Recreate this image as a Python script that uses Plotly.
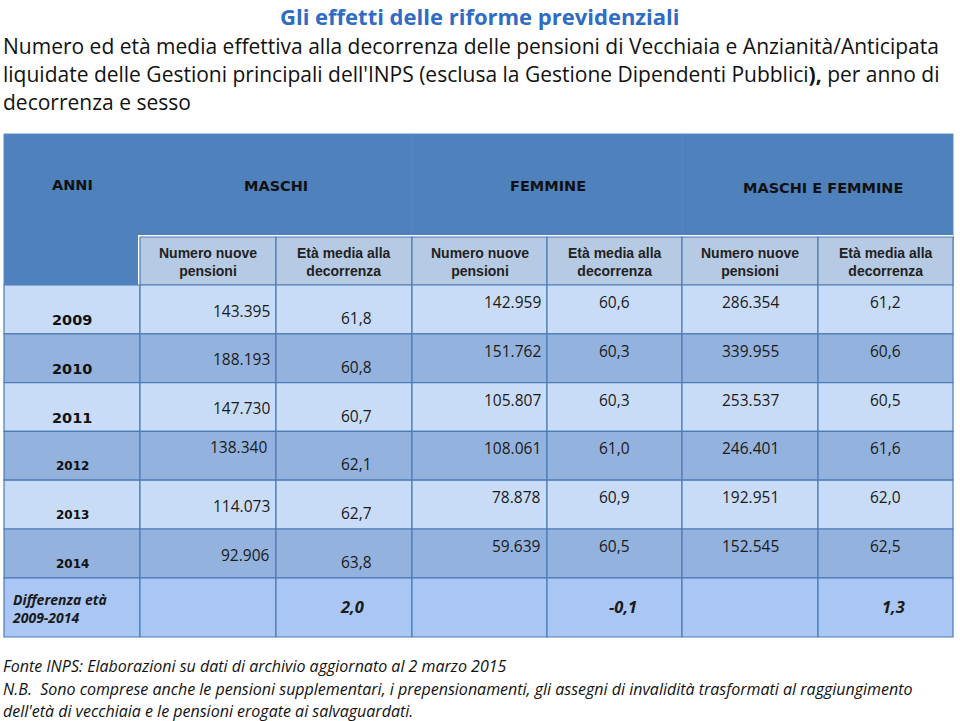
import plotly.graph_objects as go

# ---------------- data ----------------
title = "Gli effetti delle riforme previdenziali"
subtitle_lines = [
    "Numero ed età media effettiva alla decorrenza delle pensioni di Vecchiaia e Anzianità/Anticipata",
    "liquidate delle Gestioni principali dell'INPS (esclusa la Gestione Dipendenti Pubblici<b>),</b> per anno di",
    "decorrenza e sesso",
]
groups = ["MASCHI", "FEMMINE", "MASCHI E FEMMINE"]
sub_headers = ["Numero nuove<br>pensioni", "Età media alla<br>decorrenza"]
years = ["2009", "2010", "2011", "2012", "2013", "2014"]
maschi_num = [143395, 188193, 147730, 138340, 114073, 92906]
maschi_eta = [61.8, 60.8, 60.7, 62.1, 62.7, 63.8]
femmine_num = [142959, 151762, 105807, 108061, 78878, 59639]
femmine_eta = [60.6, 60.3, 60.3, 61.0, 60.9, 60.5]
totale_num = [286354, 339955, 253537, 246401, 192951, 152545]
totale_eta = [61.2, 60.6, 60.5, 61.6, 62.0, 62.5]
diff_label = "Differenza età<br>2009-2014"
diff_values = [2.0, -0.1, 1.3]
notes = [
    "Fonte INPS: Elaborazioni su dati di archivio aggiornato al 2 marzo 2015",
    "N.B.  Sono comprese anche le pensioni supplementari, i prepensionamenti, gli assegni di invalidità trasformati al raggiungimento",
    "dell'età di vecchiaia e le pensioni erogate ai salvaguardati.",
]


def fmt_int(v):
    return f"{v:,}".replace(",", ".")


def fmt_dec(v):
    return f"{v:.1f}".replace(".", ",")


# ---------------- layout constants ----------------
W, H = 960, 721
X = [4, 140, 276, 412, 547, 682, 818, 953]
HEAD_TOP, HEAD_BOT = 134, 236
SUB_TOP, SUB_BOT = 237, 285
ROW_H = 48.8
DIFF_TOP = SUB_BOT + ROW_H * len(years)
DIFF_BOT = 637

C_HEAD = "#4f81bd"
C_SUB = "#b6cae3"
C_LIGHT = "#c9dcf7"
C_DARK = "#93b2dd"
C_DIFF = "#aac6f4"
C_LINE = "#4d7bb8"
TXT = "#1a1a1a"

FONT_CAL = "Open Sans, Liberation Sans, sans-serif"
FONT_ARIAL = "Liberation Sans, Arial, sans-serif"
FONT_VERD = "DejaVu Sans, Verdana, sans-serif"

fig = go.Figure()
shapes = []
ann = []


def rect(x0, y0, x1, y1, fill, line=C_LINE, width=1.2):
    shapes.append(dict(type="rect", xref="x", yref="y", x0=x0, y0=y0, x1=x1, y1=y1,
                       fillcolor=fill, line=dict(color=line, width=width), layer="below"))


def text(x, y, t, size, family=FONT_CAL, color=TXT, xanchor="center", yanchor="middle"):
    ann.append(dict(x=x, y=y, xref="x", yref="y", text=t, showarrow=False,
                    font=dict(size=size, family=family, color=color),
                    xanchor=xanchor, yanchor=yanchor, align="left" if xanchor == "left" else "center"))


# header block
rect(X[0], HEAD_TOP, X[-1], SUB_BOT, C_HEAD, line="#5b8ac4", width=1)
for xi in [X[3], X[5]]:
    shapes.append(dict(type="line", xref="x", yref="y", x0=xi, x1=xi, y0=HEAD_TOP, y1=HEAD_BOT,
                       line=dict(color="#5a88c2", width=1), layer="below"))
shapes.append(dict(type="rect", xref="x", yref="y", x0=X[1] - 2, y0=SUB_TOP - 2, x1=X[-1], y1=SUB_BOT,
                   fillcolor="white", line=dict(width=0), layer="below"))
for c in range(6):
    rect(X[c + 1], SUB_TOP, X[c + 2], SUB_BOT, C_SUB)
    text((X[c + 1] + X[c + 2]) / 2, (SUB_TOP + SUB_BOT) / 2 + 1, "<b>" + sub_headers[c % 2] + "</b>",
         14, family=FONT_ARIAL, color="#222222")

text((X[0] + X[1]) / 2, 185, "<b>ANNI</b>", 14.5, family=FONT_VERD, color="#111111")
group_x = [(X[1] + X[3]) / 2, (X[3] + X[5]) / 2 + 1, (X[5] + X[7]) / 2 + 5]
group_y = [186, 186, 188]
for g, gx, gy in zip(groups, group_x, group_y):
    text(gx, gy, "<b>" + g + "</b>", 14.5, family=FONT_VERD, color="#111111")

# data rows
for i, yr in enumerate(years):
    top = SUB_BOT + i * ROW_H
    bot = top + ROW_H
    fill = C_LIGHT if i % 2 == 0 else C_DARK
    for c in range(7):
        rect(X[c], top, X[c + 1], bot, fill)
    big = i < 3
    text((X[0] + X[1]) / 2, top + 35, "<b>" + yr + "</b>", 14.5 if big else 12, family=FONT_VERD, color="#111111")
    my = top + (16 if i == 3 else 25.5)
    mx = X[2] - (7 if i == 3 else 4)
    text(mx, my, fmt_int(maschi_num[i]), 15.5, xanchor="right")
    text((X[2] + X[3]) / 2 + 12, top + 33, fmt_dec(maschi_eta[i]), 15.5)
    text(X[4] - 4, top + 17, fmt_int(femmine_num[i]), 15.5, xanchor="right")
    text((X[4] + X[5]) / 2, top + 17, fmt_dec(femmine_eta[i]), 15.5)
    text((X[5] + X[6]) / 2, top + 17, fmt_int(totale_num[i]), 15.5)
    text((X[6] + X[7]) / 2, top + 17, fmt_dec(totale_eta[i]), 15.5)

# difference row
for c in range(7):
    rect(X[c], DIFF_TOP, X[c + 1], DIFF_BOT, C_DIFF)
text(X[0] + 6, (DIFF_TOP + DIFF_BOT) / 2 + 1, "<b><i>" + diff_label + "</i></b>", 14, xanchor="left")
for k, v in enumerate(diff_values):
    c = 2 * k + 2
    text((X[c] + X[c + 1]) / 2 + 8, (DIFF_TOP + DIFF_BOT) / 2 - 1, "<b><i>" + fmt_dec(v) + "</i></b>", 16.5)

# title & subtitle
text(480, 16, "<b>" + title + "</b>", 22, family=FONT_CAL, color="#2f6cc4")
for j, line in enumerate(subtitle_lines):
    text(1, 46 + 28 * j, line, 21, family=FONT_CAL, color="#111111", xanchor="left")

# notes
for j, line in enumerate(notes):
    text(1, 666 + 22.5 * j, "<i>" + line + "</i>", 16, family=FONT_CAL, color="#111111", xanchor="left")

fig.update_layout(
    width=W, height=H,
    margin=dict(l=0, r=0, t=0, b=0),
    paper_bgcolor="white", plot_bgcolor="white",
    xaxis=dict(range=[0, W], visible=False, fixedrange=True),
    yaxis=dict(range=[H, 0], visible=False, fixedrange=True),
    shapes=shapes, annotations=ann, showlegend=False,
)
fig.write_html("out.html", config={"displayModeBar": False},
               post_script="document.body.style.margin='0';document.body.style.overflow='hidden';")
